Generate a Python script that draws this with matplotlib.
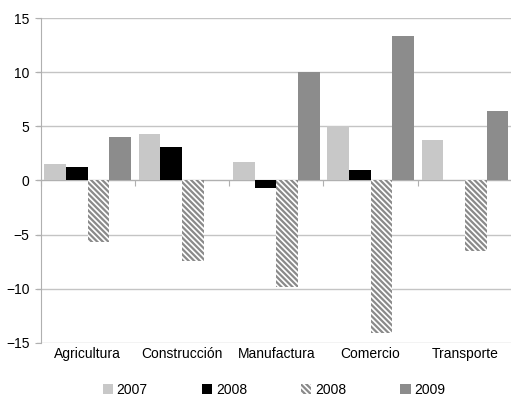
import numpy as np
import matplotlib
matplotlib.use("Agg")
import matplotlib.pyplot as plt
from matplotlib.patches import Patch
from matplotlib.transforms import blended_transform_factory

plt.rcParams['font.family'] = ['Liberation Sans', 'DejaVu Sans']
plt.rcParams['hatch.linewidth'] = 1.6

sectores = ["Agricultura", "Construcción", "Manufactura", "Comercio", "Transporte"]
v2007 = [1.5, 4.3, 1.7, 5.0, 3.75]
v2008 = [1.2, 3.05, -0.7, 0.95, 0.0]
v2008b = [-5.7, -7.4, -9.8, -14.1, -6.5]
v2009 = [4.0, 0.0, 10.0, 13.3, 6.4]
series_labels = ["2007", "2008", "2008", "2009"]

HATCH = '\\' * 6

fig = plt.figure(figsize=(5.11, 4.01), dpi=100)
ax = fig.add_axes([0.072, 0.145, 0.93, 0.81])

x = np.arange(len(sectores))
w = 0.23
offs = np.array([-1.5, -0.5, 0.5, 1.5]) * w

ax.bar(x + offs[0], v2007, w, color='#c8c8c8', zorder=3)
ax.bar(x + offs[1], v2008, w, color='black', zorder=3)
ax.bar(x + offs[2], v2008b, w, facecolor='white', edgecolor='#8a8a8a',
       linewidth=0, hatch=HATCH, zorder=3)
ax.bar(x + offs[3], v2009, w, color='#8c8c8c', zorder=3)

ax.set_xlim(-0.54, len(sectores) - 0.5)
ax.set_ylim(-15, 15)
ax.set_yticks([-15, -10, -5, 0, 5, 10, 15])
ax.grid(axis='y', color='#c4c4c4', linewidth=1, zorder=0)

for s in ['top', 'right']:
    ax.spines[s].set_visible(False)
ax.spines['left'].set_color('#b0b0b0')
ax.spines['left'].set_position(('data', -0.5))
ax.spines['bottom'].set_position(('data', 0))
ax.spines['bottom'].set_color('#b0b0b0')
ax.spines['bottom'].set_bounds(-0.5, len(sectores) - 0.5)

ax.set_xticks(np.arange(len(sectores) + 1) - 0.5)
ax.set_xticklabels([])
ax.tick_params(axis='x', length=4, color='#b0b0b0', direction='out')
ax.tick_params(axis='y', length=4, color='#b0b0b0', labelsize=10, pad=4)

trans = blended_transform_factory(ax.transData, ax.transAxes)
for xi, name in zip(x, sectores):
    ax.text(xi, -0.035, name, transform=trans, ha='center', va='center', fontsize=10)

handles = [
    Patch(facecolor='#c8c8c8'),
    Patch(facecolor='black'),
    Patch(facecolor='white', edgecolor='#8a8a8a', linewidth=0, hatch=HATCH),
    Patch(facecolor='#8c8c8c'),
]
fig.legend(handles, series_labels, loc='center', bbox_to_anchor=(0.536, 0.027),
           ncol=4, frameon=False, fontsize=10, handlelength=0.75, handleheight=0.75,
           handletextpad=0.25, columnspacing=3.9)

fig.savefig("out.png", dpi=100)
